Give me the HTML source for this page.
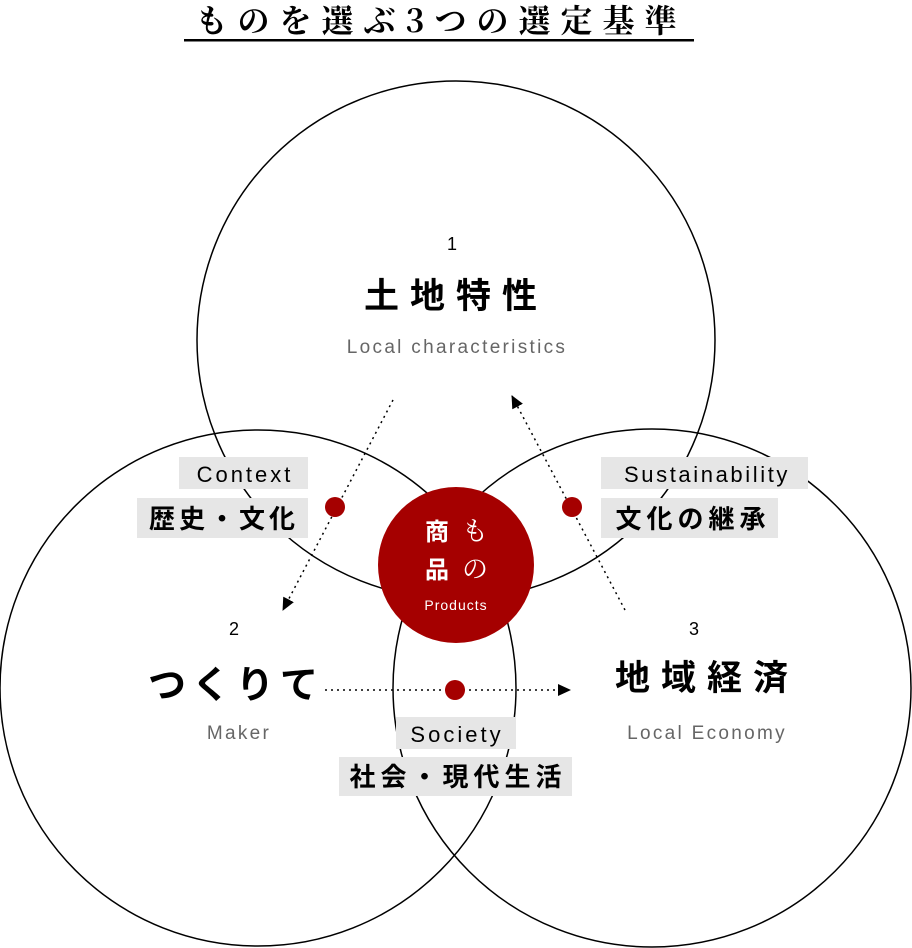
<!DOCTYPE html>
<html><head><meta charset="utf-8"><style>
body{margin:0;background:#fff;width:912px;height:948px;overflow:hidden}
svg{display:block}
.s{font-family:"Liberation Sans","Noto Sans CJK JP",sans-serif}
</style></head><body>
<svg width="912" height="948" viewBox="0 0 912 948" xmlns="http://www.w3.org/2000/svg">
<defs><marker id="a" markerWidth="14" markerHeight="14" refX="12" refY="6" orient="auto" markerUnits="userSpaceOnUse"><path d="M0,0 L13,6 L0,12 Z" fill="#000"/></marker></defs>
<text x="441" y="32" text-anchor="middle" font-family="'Noto Serif CJK JP','Noto Serif CJK SC',serif" font-size="32" font-weight="bold" letter-spacing="10" fill="#000">ものを選ぶ3つの選定基準</text>
<rect x="184" y="39" width="510" height="2.5" fill="#000"/>
<g fill="none" stroke="#000" stroke-width="1.5">
<circle cx="456" cy="340" r="259"/>
<circle cx="258" cy="688" r="258"/>
<circle cx="652" cy="688" r="259"/>
</g>
<circle cx="456" cy="565" r="78" fill="#a50000"/>
<g class="s" fill="#fff" font-size="24" font-weight="bold"><text x="437" y="540" text-anchor="middle">商</text><text x="437" y="578" text-anchor="middle">品</text></g>
<g fill="#fff" font-size="26" font-family="'Noto Serif CJK JP',serif"><text x="475" y="540" text-anchor="middle">も</text><text x="475" y="578" text-anchor="middle">の</text></g>
<text class="s" x="456" y="610" text-anchor="middle" fill="#fff" font-size="14" letter-spacing="1">Products</text>
<g stroke="#000" stroke-width="1.5" stroke-dasharray="2,4" fill="none">
<line x1="393" y1="400" x2="283" y2="610" marker-end="url(#a)"/>
<line x1="625" y1="610" x2="512" y2="396" marker-end="url(#a)"/>
<line x1="325" y1="690" x2="570" y2="690" marker-end="url(#a)"/>
</g>
<g fill="#a50000"><circle cx="335" cy="507" r="10"/><circle cx="572" cy="507" r="10"/><circle cx="455" cy="690" r="10"/></g>
<g fill="#e6e6e6">
<rect x="179" y="457" width="129" height="32"/><rect x="137" y="498" width="171" height="40"/>
<rect x="601" y="457" width="207" height="32"/><rect x="601" y="498" width="177" height="40"/>
<rect x="396" y="717" width="120" height="32"/><rect x="339" y="757" width="233" height="39"/>
</g>
<g class="s" fill="#000" font-weight="bold">
<text x="245" y="482" text-anchor="middle" font-size="22" letter-spacing="3" font-weight="normal" style="font-weight:500">Context</text>
<text x="224" y="528" text-anchor="middle" font-size="26" letter-spacing="4">歴史・文化</text>
<text x="707" y="482" text-anchor="middle" font-size="22" letter-spacing="2.6" style="font-weight:500">Sustainability</text>
<text x="693" y="528" text-anchor="middle" font-size="26" letter-spacing="5">文化の継承</text>
<text x="457" y="742" text-anchor="middle" font-size="22" letter-spacing="3" style="font-weight:500">Society</text>
<text x="458" y="786" text-anchor="middle" font-size="26" letter-spacing="5">社会・現代生活</text>
<text x="452" y="250" text-anchor="middle" font-size="18" font-weight="normal">1</text>
<text x="456" y="308" text-anchor="middle" font-size="35" letter-spacing="11">土地特性</text>
<text x="234" y="635" text-anchor="middle" font-size="18" font-weight="normal">2</text>
<text x="236" y="698" text-anchor="middle" font-size="38" letter-spacing="6">つくりて</text>
<text x="694" y="635" text-anchor="middle" font-size="18" font-weight="normal">3</text>
<text x="707" y="690" text-anchor="middle" font-size="35" letter-spacing="11">地域経済</text>
</g>
<g class="s" fill="#666" font-size="19" letter-spacing="2.3">
<text x="457" y="353" text-anchor="middle">Local characteristics</text>
<text x="239" y="739" text-anchor="middle">Maker</text>
<text x="707" y="739" text-anchor="middle">Local Economy</text>
</g>
</svg>
</body></html>
